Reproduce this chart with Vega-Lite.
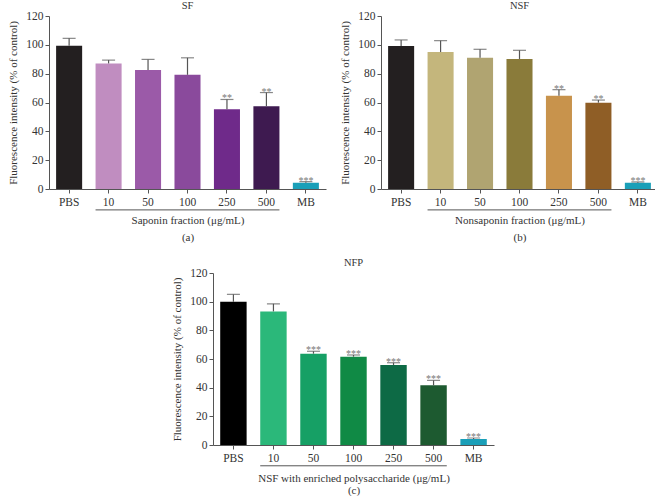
{
  "$schema": "https://vega.github.io/schema/vega-lite/v6.json",
  "background": "white",
  "padding": {"left": 7, "top": 0, "right": 0, "bottom": 0},
  "config": {
    "font": "Liberation Serif",
    "view": {"stroke": null},
    "title": {"fontSize": 10.5, "fontWeight": "normal", "color": "#333", "offset": -1, "font": "Liberation Serif"},
    "axis": {
      "labelFont": "Liberation Serif", "titleFont": "Liberation Serif",
      "labelFontSize": 11.5, "titleFontSize": 11, "titleFontWeight": "normal",
      "labelColor": "#333", "titleColor": "#333", "labelOverlap": false, "labelBound": false,
      "domainColor": "#555", "tickColor": "#555", "grid": false, "tickSize": 4
    },
    "axisQuantitative": {"labelOverlap": false, "tickCount": 7},
    "axisY": {"labelOverlap": false, "titlePadding": 7}
  },
  "datasets": {
    "sf": [
      {"group": "PBS", "mean": 99.3, "upper": 104.5, "sig": ""},
      {"group": "10", "mean": 87.1, "upper": 89.4, "sig": ""},
      {"group": "50", "mean": 82.5, "upper": 89.9, "sig": ""},
      {"group": "100", "mean": 79.2, "upper": 91.0, "sig": ""},
      {"group": "250", "mean": 55.4, "upper": 62.1, "sig": "**"},
      {"group": "500", "mean": 57.4, "upper": 66.9, "sig": "**"},
      {"group": "MB", "mean": 4.4, "upper": 5.1, "sig": "***"}
    ],
    "nsf": [
      {"group": "PBS", "mean": 99.2, "upper": 103.4, "sig": ""},
      {"group": "10", "mean": 95.0, "upper": 102.9, "sig": ""},
      {"group": "50", "mean": 91.1, "upper": 96.9, "sig": ""},
      {"group": "100", "mean": 90.2, "upper": 96.2, "sig": ""},
      {"group": "250", "mean": 64.7, "upper": 68.9, "sig": "**"},
      {"group": "500", "mean": 59.9, "upper": 61.7, "sig": "**"},
      {"group": "MB", "mean": 4.4, "upper": 4.9, "sig": "***"}
    ],
    "nfp": [
      {"group": "PBS", "mean": 99.9, "upper": 105.1, "sig": ""},
      {"group": "10", "mean": 93.2, "upper": 98.5, "sig": ""},
      {"group": "50", "mean": 63.7, "upper": 65.4, "sig": "***"},
      {"group": "100", "mean": 61.6, "upper": 62.8, "sig": "***"},
      {"group": "250", "mean": 55.8, "upper": 57.4, "sig": "***"},
      {"group": "500", "mean": 41.6, "upper": 45.1, "sig": "***"},
      {"group": "MB", "mean": 4.2, "upper": 4.9, "sig": "***"}
    ],
    "span": [{"from": "10", "to": "500"}]
  },
  "vconcat": [
    {
      "hconcat": [
        {
          "width": 277, "height": 173,
          "title": {"text": "SF"},
          "encoding": {
            "x": {"field": "group", "type": "nominal",
              "scale": {"domain": ["PBS", "10", "50", "100", "250", "500", "MB"], "paddingInner": 0.34, "paddingOuter": 0.18},
              "axis": {"labelAngle": 0, "labelPadding": 3, "titlePadding": 7, "titleLineHeight": 17, "title": ["Saponin fraction (μg/mL)", "(a)"]}}
          },
          "layer": [
            {"data": {"name": "sf"}, "mark": {"type": "bar"},
              "encoding": {
                "y": {"field": "mean", "type": "quantitative", "scale": {"domain": [0, 120], "nice": false},
                  "axis": {"values": [0, 20, 40, 60, 80, 100, 120], "labelOverlap": false, "title": "Fluorescence intensity (% of control)"}},
                "color": {"field": "group", "type": "nominal", "legend": null,
                  "scale": {"domain": ["PBS", "10", "50", "100", "250", "500", "MB"], "range": ["#231f20", "#c08dc0", "#9b5aa8", "#8a4a9c", "#6f2a8a", "#3e1a50", "#1a9fb8"]}}
              }},
            {"data": {"name": "sf"}, "mark": {"type": "rule", "color": "#555", "strokeWidth": 1.2},
              "encoding": {"y": {"field": "mean", "type": "quantitative"}, "y2": {"field": "upper"}}},
            {"data": {"name": "sf"}, "mark": {"type": "tick", "color": "#555", "size": 13, "thickness": 1.2},
              "encoding": {"y": {"field": "upper", "type": "quantitative"}}},
            {"data": {"name": "sf"}, "mark": {"type": "text", "color": "#777", "fontSize": 10, "dy": 2, "baseline": "alphabetic"},
              "encoding": {"y": {"field": "upper", "type": "quantitative"}, "text": {"field": "sig"}}},
            {"data": {"name": "span"}, "mark": {"type": "rule", "color": "#555", "strokeWidth": 1},
              "encoding": {"x": {"field": "from", "type": "nominal", "bandPosition": 0}, "x2": {"field": "to", "bandPosition": 1}, "y": {"datum": -14.5}}}
          ]
        },
        {
          "width": 277, "height": 173,
          "title": {"text": "NSF"},
          "encoding": {
            "x": {"field": "group", "type": "nominal",
              "scale": {"domain": ["PBS", "10", "50", "100", "250", "500", "MB"], "paddingInner": 0.34, "paddingOuter": 0.18},
              "axis": {"labelAngle": 0, "labelPadding": 3, "titlePadding": 7, "titleLineHeight": 17, "title": ["Nonsaponin fraction (μg/mL)", "(b)"]}}
          },
          "layer": [
            {"data": {"name": "nsf"}, "mark": {"type": "bar"},
              "encoding": {
                "y": {"field": "mean", "type": "quantitative", "scale": {"domain": [0, 120], "nice": false},
                  "axis": {"values": [0, 20, 40, 60, 80, 100, 120], "labelOverlap": false, "title": "Fluorescence intensity (% of control)"}},
                "color": {"field": "group", "type": "nominal", "legend": null,
                  "scale": {"domain": ["PBS", "10", "50", "100", "250", "500", "MB"], "range": ["#231f20", "#c4b67c", "#b0a471", "#8a7b3a", "#c8934c", "#8f5e26", "#1a9fb8"]}}
              }},
            {"data": {"name": "nsf"}, "mark": {"type": "rule", "color": "#555", "strokeWidth": 1.2},
              "encoding": {"y": {"field": "mean", "type": "quantitative"}, "y2": {"field": "upper"}}},
            {"data": {"name": "nsf"}, "mark": {"type": "tick", "color": "#555", "size": 13, "thickness": 1.2},
              "encoding": {"y": {"field": "upper", "type": "quantitative"}}},
            {"data": {"name": "nsf"}, "mark": {"type": "text", "color": "#777", "fontSize": 10, "dy": 2, "baseline": "alphabetic"},
              "encoding": {"y": {"field": "upper", "type": "quantitative"}, "text": {"field": "sig"}}},
            {"data": {"name": "span"}, "mark": {"type": "rule", "color": "#555", "strokeWidth": 1},
              "encoding": {"x": {"field": "from", "type": "nominal", "bandPosition": 0}, "x2": {"field": "to", "bandPosition": 1}, "y": {"datum": -14.5}}}
          ]
        }
      ],
      "spacing": 13,
      "resolve": {"scale": {"color": "independent"}}
    },
    {
      "width": 281, "height": 172,
      "title": {"text": "NFP"},
      "encoding": {
        "x": {"field": "group", "type": "nominal",
          "scale": {"domain": ["PBS", "10", "50", "100", "250", "500", "MB"], "paddingInner": 0.34, "paddingOuter": 0.18},
          "axis": {"labelAngle": 0, "labelPadding": 3, "titlePadding": 9, "titleLineHeight": 12, "title": ["NSF with enriched polysaccharide (μg/mL)", "(c)"]}}
      },
      "layer": [
        {"data": {"name": "nfp"}, "mark": {"type": "bar"},
          "encoding": {
            "y": {"field": "mean", "type": "quantitative", "scale": {"domain": [0, 120], "nice": false},
              "axis": {"values": [0, 20, 40, 60, 80, 100, 120], "labelOverlap": false, "title": "Fluorescence intensity (% of control)"}},
            "color": {"field": "group", "type": "nominal", "legend": null,
              "scale": {"domain": ["PBS", "10", "50", "100", "250", "500", "MB"], "range": ["#000000", "#2bb87a", "#16a065", "#108a45", "#0d6a45", "#1d5a30", "#1a9fb8"]}}
          }},
        {"data": {"name": "nfp"}, "mark": {"type": "rule", "color": "#555", "strokeWidth": 1.2},
          "encoding": {"y": {"field": "mean", "type": "quantitative"}, "y2": {"field": "upper"}}},
        {"data": {"name": "nfp"}, "mark": {"type": "tick", "color": "#555", "size": 13, "thickness": 1.2},
          "encoding": {"y": {"field": "upper", "type": "quantitative"}}},
        {"data": {"name": "nfp"}, "mark": {"type": "text", "color": "#777", "fontSize": 10, "dy": 2, "baseline": "alphabetic"},
          "encoding": {"y": {"field": "upper", "type": "quantitative"}, "text": {"field": "sig"}}},
        {"data": {"name": "span"}, "mark": {"type": "rule", "color": "#555", "strokeWidth": 1},
          "encoding": {"x": {"field": "from", "type": "nominal", "bandPosition": 0}, "x2": {"field": "to", "bandPosition": 1}, "y": {"datum": -14.5}}}
      ]
    }
  ],
  "center": true,
  "spacing": 14,
  "resolve": {"scale": {"color": "independent"}}
}
